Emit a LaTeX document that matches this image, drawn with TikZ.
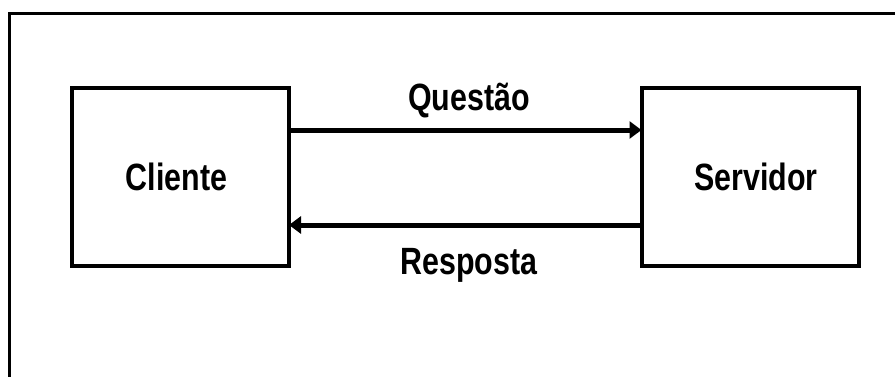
\documentclass[tikz,border=0pt]{standalone}
\usepackage{fontspec}
\setmainfont{Liberation Sans}
\usetikzlibrary{arrows.meta}
\tikzset{
  box/.style={draw=black, line width=4pt, minimum width=217pt, minimum height=178pt, inner sep=0pt, outer sep=0pt},
  lbl/.style={font=\fontsize{38}{40}\selectfont\bfseries, inner sep=0pt, text=black},
  conn/.style={line width=5pt, -{Triangle[length=12pt,width=17pt]}, shorten >=0pt},
  framel/.style={line width=3pt, line cap=rect}
}
\newcommand{\sq}[1]{\scalebox{0.8}[1]{#1}}
\begin{document}
\begin{tikzpicture}[x=1pt,y=-1pt]
  \useasboundingbox (0,0) rectangle (895,376);
  \fill[white] (0,0) rectangle (895,376);
  \coordinate (fa) at (9,378);
  \coordinate (fb) at (9,13);
  \coordinate (fc) at (897,13);
  \draw[framel] (fa) -- (fb) -- (fc);
  \node[box] (cliente) at (180.5,177) {};
  \node[box] (servidor) at (750,177) {};
  \node[lbl] (tcl) at (176.5,177) {\sq{Cliente}};
  \node[lbl] (tsv) at (756,177) {\sq{Servidor}};
  \draw[conn] ([yshift=47pt]cliente.east) -- ([yshift=47pt]servidor.west);
  \draw[conn] ([yshift=-48pt]servidor.west) -- ([yshift=-48pt]cliente.east);
  \node[lbl, anchor=base] (q) at (469,110) {\sq{Questão}};
  \node[lbl, anchor=base] (r) at (469,274) {\sq{Resposta}};
\end{tikzpicture}
\end{document}
